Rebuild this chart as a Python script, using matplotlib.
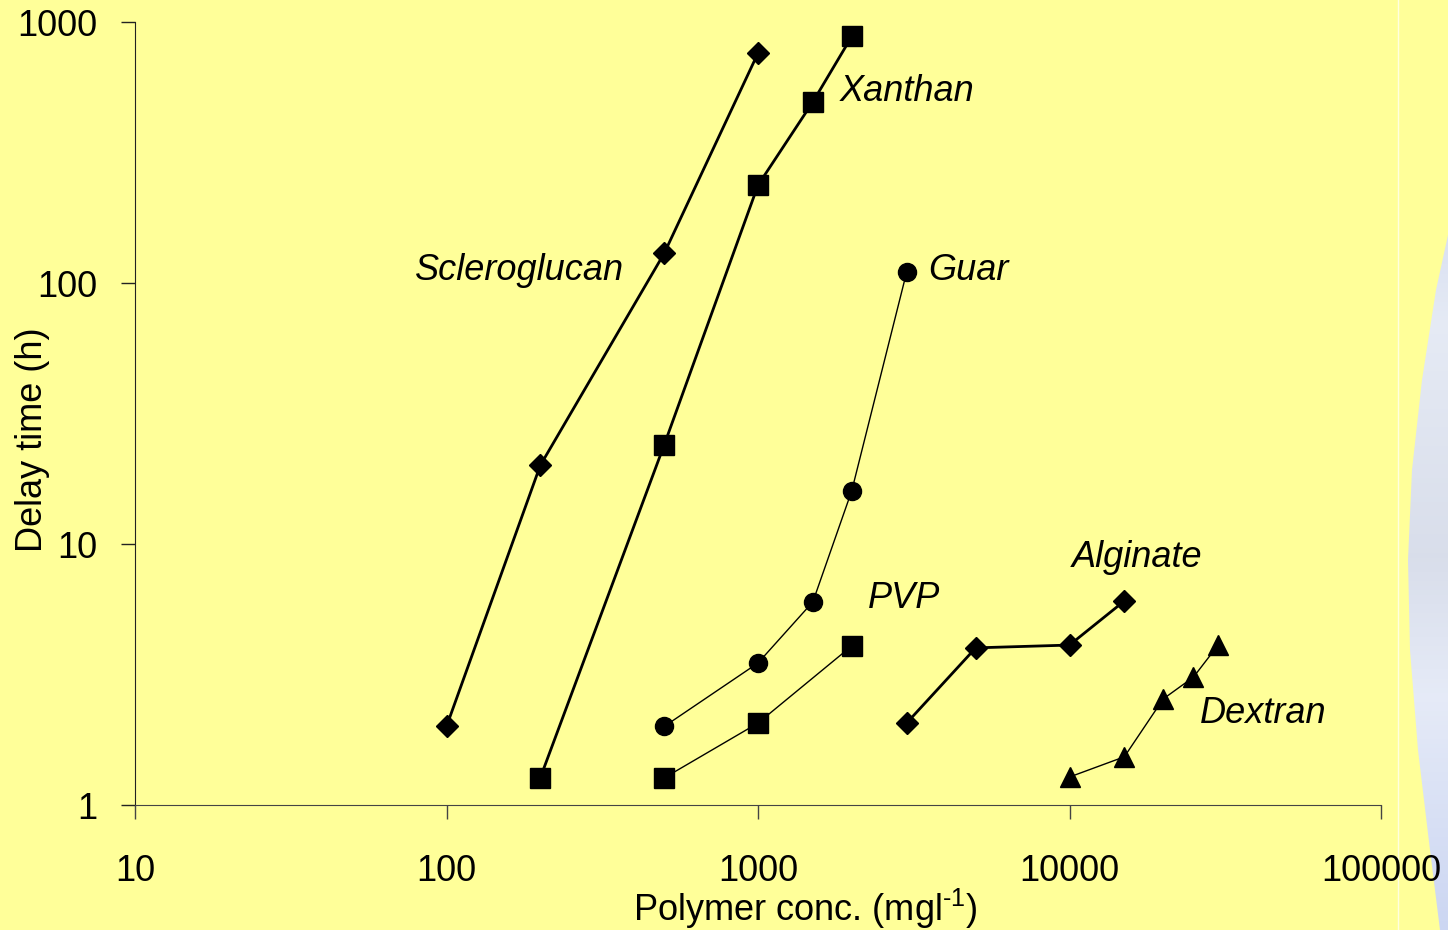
import numpy as np
import matplotlib.pyplot as plt
from matplotlib.patches import Polygon

# data
scl_x = [100, 200, 500, 1000]
scl_y = [2.0, 20, 130, 760]

xan_x = [200, 500, 1000, 1500, 2000]
xan_y = [1.27, 24, 237, 494, 880]

guar_x = [500, 1000, 1500, 2000, 3000]
guar_y = [2.0, 3.5, 6.0, 16, 110]

pvp_x = [500, 1000, 2000]
pvp_y = [1.27, 2.06, 4.07]

alg_x = [3000, 5000, 10000, 15000]
alg_y = [2.06, 4.0, 4.1, 6.05]

dex_x = [10000, 15000, 20000, 25000, 30000]
dex_y = [1.28, 1.53, 2.55, 3.09, 4.1]

xticks = [10, 100, 1000, 10000, 100000]
yticks = [1, 10, 100, 1000]

plt.rcParams['font.family'] = ['Liberation Sans', 'DejaVu Sans']
bg = '#FFFF99'

fig = plt.figure(figsize=(14.48, 9.30), dpi=100)
fig.patch.set_facecolor(bg)

# decorative blob on the right edge, gradient fill
W, H = 1448, 930
blob = [(1448, 235), (1436, 290), (1422, 380), (1412, 470), (1408, 560),
        (1410, 650), (1418, 750), (1430, 850), (1440, 930), (1448, 930)]
bax = fig.add_axes([1400 / W, 0, 48 / W, 1], zorder=0)
bax.axis('off')
grad = np.array([0.0, 0.35, 0.6, 0.75, 1.0])
cols = np.array([[0.74, 0.78, 0.92], [0.90, 0.92, 0.96], [0.85, 0.87, 0.92],
                 [0.90, 0.92, 0.97], [0.80, 0.84, 0.95]])
t = np.linspace(0, 1, 200)
img = np.stack([np.interp(t, grad, cols[:, k]) for k in range(3)], axis=1)
img = np.repeat(img[:, None, :], 4, axis=1)
im = bax.imshow(img, extent=[1400, 1448, 930, 0], aspect='auto')
bax.set_xlim(1400, 1448)
bax.set_ylim(930, 0)
poly = Polygon(blob, closed=True, transform=bax.transData, facecolor='none', edgecolor='none')
bax.add_patch(poly)
im.set_clip_path(poly)
fig.add_artist(plt.Line2D([1398 / W, 1398 / W], [0, 1], transform=fig.transFigure,
                          color='#FFFFE0', lw=1))

ax = fig.add_axes([135 / W, 1 - 805 / H, (1381 - 135) / W, (805 - 22) / H], zorder=2)
ax.set_facecolor('none')
ax.set_xscale('log')
ax.set_yscale('log')

ax.plot(scl_x, scl_y, color='black', lw=2, marker='D', ms=11.5, clip_on=False)
ax.plot(xan_x, xan_y, color='black', lw=2, marker='s', ms=14, clip_on=False)
ax.plot(guar_x, guar_y, color='black', lw=1, marker='o', ms=13, clip_on=False)
ax.plot(pvp_x, pvp_y, color='black', lw=1, marker='s', ms=14, clip_on=False)
ax.plot(alg_x, alg_y, color='black', lw=2, marker='D', ms=11.5, clip_on=False)
ax.plot(dex_x, dex_y, color='black', lw=1, marker='^', ms=14, clip_on=False)

ax.set_xlim(10, 100000)
ax.set_ylim(1, 1000)
ax.set_xticks(xticks)
ax.set_xticklabels([str(v) for v in xticks])
ax.set_yticks(yticks)
ax.set_yticklabels([str(v) for v in yticks])
ax.minorticks_off()

for s in ['top', 'right']:
    ax.spines[s].set_visible(False)
ax.spines['left'].set_color('#222222')
ax.spines['bottom'].set_color('#444444')
ax.tick_params(axis='x', length=10, width=1, pad=25, labelsize=26, color='#444444')
ax.tick_params(axis='y', length=10, width=1, pad=17, labelsize=26, color='#222222')

ax.set_xlabel('Polymer conc. (mgl$^{\\mathregular{\u2010}\\mathregular{1}}$)', fontsize=26)
ax.xaxis.set_label_coords(0.538, -0.104)
ax.set_ylabel('Delay time (h)', fontsize=26)
ax.yaxis.set_label_coords(-0.068, 0.466)

lab = dict(fontsize=26, style='italic', va='center', ha='left')
ax.text(1833, 540, 'Xanthan', **lab)
ax.text(79, 112, 'Scleroglucan', **lab)
ax.text(3516, 112, 'Guar', **lab)
ax.text(2256, 6.2, 'PVP', **lab)
ax.text(10190, 8.9, 'Alginate', **lab)
ax.text(26240, 2.25, 'Dextran', **lab)

fig.savefig('out.png', dpi=100, facecolor=bg)
